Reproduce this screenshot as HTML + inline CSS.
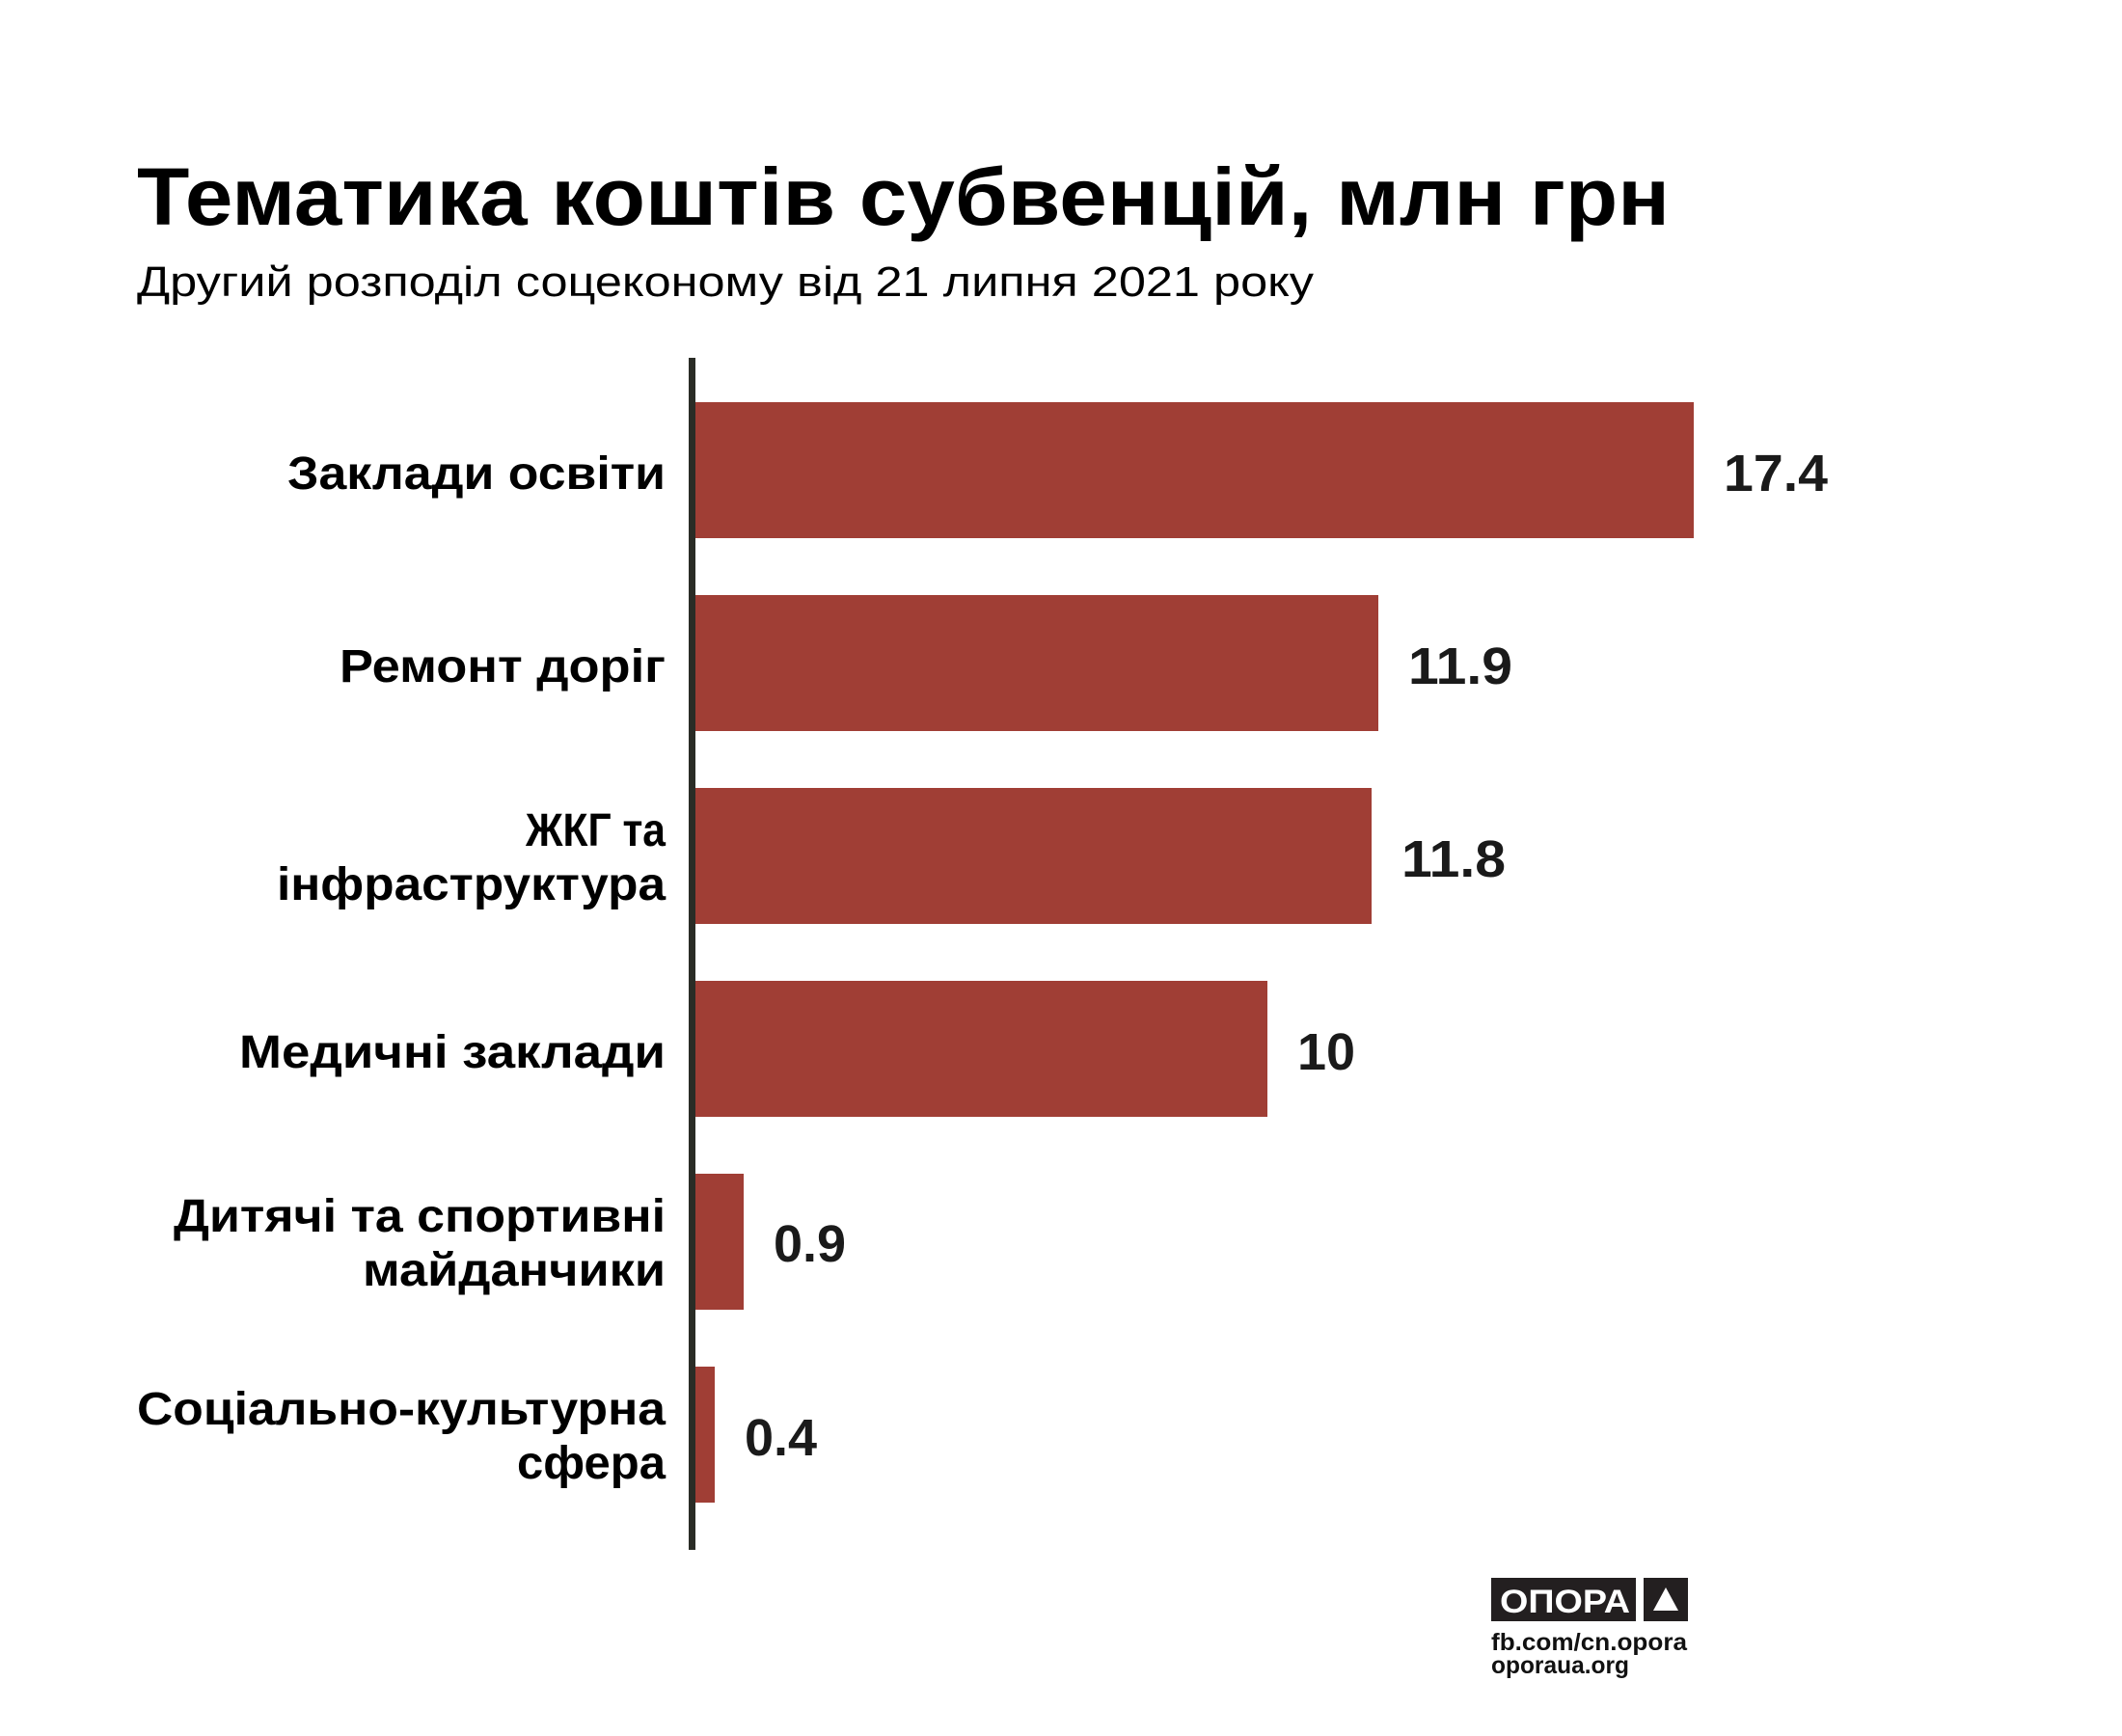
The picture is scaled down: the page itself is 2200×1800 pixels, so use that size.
<!DOCTYPE html>
<html><head><meta charset="utf-8"><style>
html,body{margin:0;padding:0;background:#fff;}
svg{display:block;}
text{font-family:"Liberation Sans","DejaVu Sans",sans-serif;}
</style></head><body>
<svg width="2200" height="1800" viewBox="0 0 2200 1800" xmlns="http://www.w3.org/2000/svg">
<rect width="2200" height="1800" fill="#fff"/>
<text x="142" y="233" font-size="84" font-weight="bold" fill="#000" textLength="1589" lengthAdjust="spacingAndGlyphs">Тематика коштів субвенцій, млн грн</text>
<text x="142" y="307" font-size="44" fill="#000" textLength="1220" lengthAdjust="spacingAndGlyphs">Другий розподіл соцеконому від 21 липня 2021 року</text>
<g fill="#a03e35">
<rect x="721" y="417" width="1035" height="141"/>
<rect x="721" y="617" width="708" height="141"/>
<rect x="721" y="817" width="701" height="141"/>
<rect x="721" y="1017" width="593" height="141"/>
<rect x="721" y="1217" width="50" height="141"/>
<rect x="721" y="1417" width="20" height="141"/>
</g>
<rect x="714" y="371" width="7" height="1236" fill="#2a2c26"/>
<g font-size="54" font-weight="bold" fill="#1a1a1a">
<text x="1787" y="509" textLength="108" lengthAdjust="spacingAndGlyphs">17.4</text>
<text x="1460" y="709" textLength="108" lengthAdjust="spacingAndGlyphs">11.9</text>
<text x="1453" y="909" textLength="108" lengthAdjust="spacingAndGlyphs">11.8</text>
<text x="1345" y="1109">10</text>
<text x="802" y="1308">0.9</text>
<text x="772" y="1509">0.4</text>
</g>
<g font-size="48" font-weight="bold" fill="#000" text-anchor="end" lengthAdjust="spacingAndGlyphs">
<text x="690" y="507" textLength="392" lengthAdjust="spacingAndGlyphs">Заклади освіти</text>
<text x="690" y="707" textLength="338" lengthAdjust="spacingAndGlyphs">Ремонт доріг</text>
<text x="690" y="877" textLength="145" lengthAdjust="spacingAndGlyphs">ЖКГ та</text>
<text x="690" y="933" textLength="403" lengthAdjust="spacingAndGlyphs">інфраструктура</text>
<text x="690" y="1107" textLength="442" lengthAdjust="spacingAndGlyphs">Медичні заклади</text>
<text x="690" y="1277" textLength="510" lengthAdjust="spacingAndGlyphs">Дитячі та спортивні</text>
<text x="690" y="1333" textLength="314" lengthAdjust="spacingAndGlyphs">майданчики</text>
<text x="690" y="1477" textLength="548" lengthAdjust="spacingAndGlyphs">Соціально-культурна</text>
<text x="690" y="1533" textLength="154" lengthAdjust="spacingAndGlyphs">сфера</text>
</g>
<rect x="1546" y="1636" width="150" height="45" fill="#231f20"/>
<text x="1555" y="1672" font-size="34" font-weight="bold" fill="#fff" textLength="135" lengthAdjust="spacingAndGlyphs">ОПОРА</text>
<rect x="1704" y="1636" width="46" height="45" fill="#231f20"/>
<polygon points="1727,1646 1740,1670 1714,1670" fill="#fff"/>
<text x="1546" y="1711" font-size="25" font-weight="bold" fill="#111" textLength="203" lengthAdjust="spacingAndGlyphs">fb.com/cn.opora</text>
<text x="1546" y="1735" font-size="25" font-weight="bold" fill="#111" textLength="143" lengthAdjust="spacingAndGlyphs">oporaua.org</text>
</svg>
</body></html>
